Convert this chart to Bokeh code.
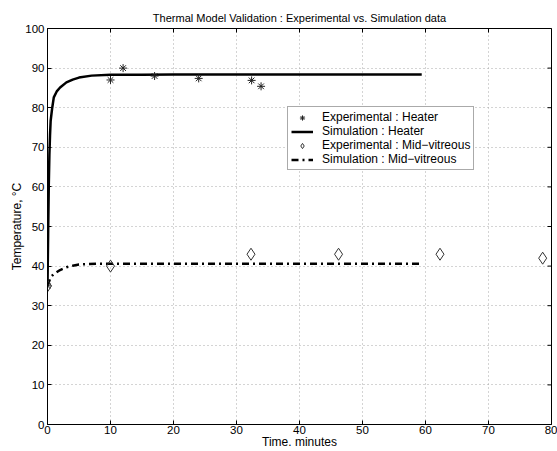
import math
from bokeh.plotting import figure
from bokeh.models import Range1d, Legend, LegendItem, FixedTicker
from bokeh.embed import file_html
from bokeh.resources import INLINE

# Data
heater_exp_t = [0, 10, 12, 17, 24, 32.4, 33.9]
heater_exp_T = [35, 87.0, 90.0, 88.0, 87.4, 86.9, 85.4]
mid_exp_t = [0, 10, 32.3, 46.2, 62.3, 78.6]
mid_exp_T = [35, 40.0, 43.0, 43.0, 43.0, 42.0]
heater_sim_t = [0, 0.1, 0.2, 0.3, 0.4, 0.5, 0.75, 1, 1.5, 2, 3, 4, 5, 7, 10, 15, 20, 30, 40, 50, 59.4]
heater_sim_T = [35, 48, 60, 68, 73, 76.7, 80.0, 82.6, 84.2, 85.1, 86.4, 87.1, 87.6, 88.1, 88.3, 88.35, 88.4, 88.4, 88.4, 88.4, 88.4]
mid_sim_t = [0, 0.5, 1, 2, 3, 4, 5, 6, 8, 10, 20, 30, 40, 50, 59.2]
mid_sim_T = [35, 37.2, 38.0, 39.0, 39.7, 40.1, 40.4, 40.5, 40.6, 40.6, 40.6, 40.6, 40.6, 40.6, 40.6]

x_ticks = [0, 10, 20, 30, 40, 50, 60, 70, 80]
y_ticks = [0, 10, 20, 30, 40, 50, 60, 70, 80, 90, 100]
x_max = 80
y_max = 100

FONT = "Liberation Sans"

p = figure(width=557, height=451, output_backend="svg", toolbar_location=None,
           x_range=Range1d(0, x_max), y_range=Range1d(0, y_max),
           min_border_left=47, min_border_right=6, min_border_top=28, min_border_bottom=27,
           title="Thermal Model Validation : Experimental vs. Simulation data")
p.title.align = "center"
p.title.text_font = FONT
p.title.text_font_size = "11px"
p.title.text_font_style = "normal"
p.title.text_color = "black"
p.title.standoff = 9
p.outline_line_color = "black"
p.outline_line_width = 1
p.background_fill_color = "white"
p.border_fill_color = "white"

for ax, ticks in ((p.xaxis[0], x_ticks), (p.yaxis[0], y_ticks)):
    ax.ticker = FixedTicker(ticks=ticks)
    ax.major_tick_in = 4
    ax.major_tick_out = 0
    ax.minor_tick_in = 0
    ax.minor_tick_out = 0
    ax.major_label_text_font = FONT
    ax.major_label_text_font_size = "11.5px"
    ax.major_label_text_color = "black"
    ax.axis_label_text_font = FONT
    ax.axis_label_text_font_size = "12px"
    ax.axis_label_text_font_style = "normal"
    ax.axis_label_text_color = "black"
    ax.axis_line_color = "black"
    ax.major_tick_line_color = "black"
p.xaxis[0].major_label_standoff = 1
p.xaxis[0].axis_label_standoff = -2
p.yaxis[0].major_label_standoff = 3
p.yaxis[0].axis_label_standoff = -2

p.xaxis[0].axis_label = "Time. minutes"
p.yaxis[0].axis_label = "Temperature, °C"

for g in (p.xgrid[0], p.ygrid[0]):
    g.grid_line_color = "#a8a8a8"
    g.grid_line_dash = "1 3"
    g.grid_line_width = 1
p.xgrid[0].ticker = FixedTicker(ticks=x_ticks)
p.ygrid[0].ticker = FixedTicker(ticks=y_ticks)

# inward tick marks on the top and right edges of the box (clipped to the frame)
p.scatter(x_ticks, [y_max] * len(x_ticks), marker="dash", angle=math.pi / 2, size=8,
          line_color="black", line_width=1)
p.scatter([x_max] * len(y_ticks), y_ticks, marker="dash", size=8,
          line_color="black", line_width=1)

r_hs = p.line(heater_sim_t, heater_sim_T, line_color="black", line_width=2.5)
r_ms = p.line(mid_sim_t, mid_sim_T, line_color="black", line_width=2.5, line_dash="7 4 2 4")
r_he = p.scatter(heater_exp_t, heater_exp_T, marker="asterisk", size=8,
                 line_color="#222222", line_width=1)
r_me = p.scatter(mid_exp_t, mid_exp_T, marker="diamond", size=12,
                 line_color="#333333", fill_color=None, line_width=1)

legend = Legend(items=[
    LegendItem(label="Experimental : Heater", renderers=[r_he]),
    LegendItem(label="Simulation : Heater", renderers=[r_hs]),
    LegendItem(label="Experimental : Mid\u2212vitreous", renderers=[r_me]),
    LegendItem(label="Simulation : Mid\u2212vitreous", renderers=[r_ms]),
], location=(240, 254))
legend.label_text_font = FONT
legend.label_text_font_size = "12px"
legend.label_text_color = "black"
legend.label_height = 13
legend.glyph_height = 13
legend.glyph_width = 22
legend.spacing = 0
legend.padding = 3
legend.margin = 0
legend.label_standoff = 9
legend.border_line_color = "#555555"
legend.border_line_width = 1
legend.background_fill_alpha = 1
p.add_layout(legend, "center")

open("out.html", "w").write(file_html(p, INLINE))
